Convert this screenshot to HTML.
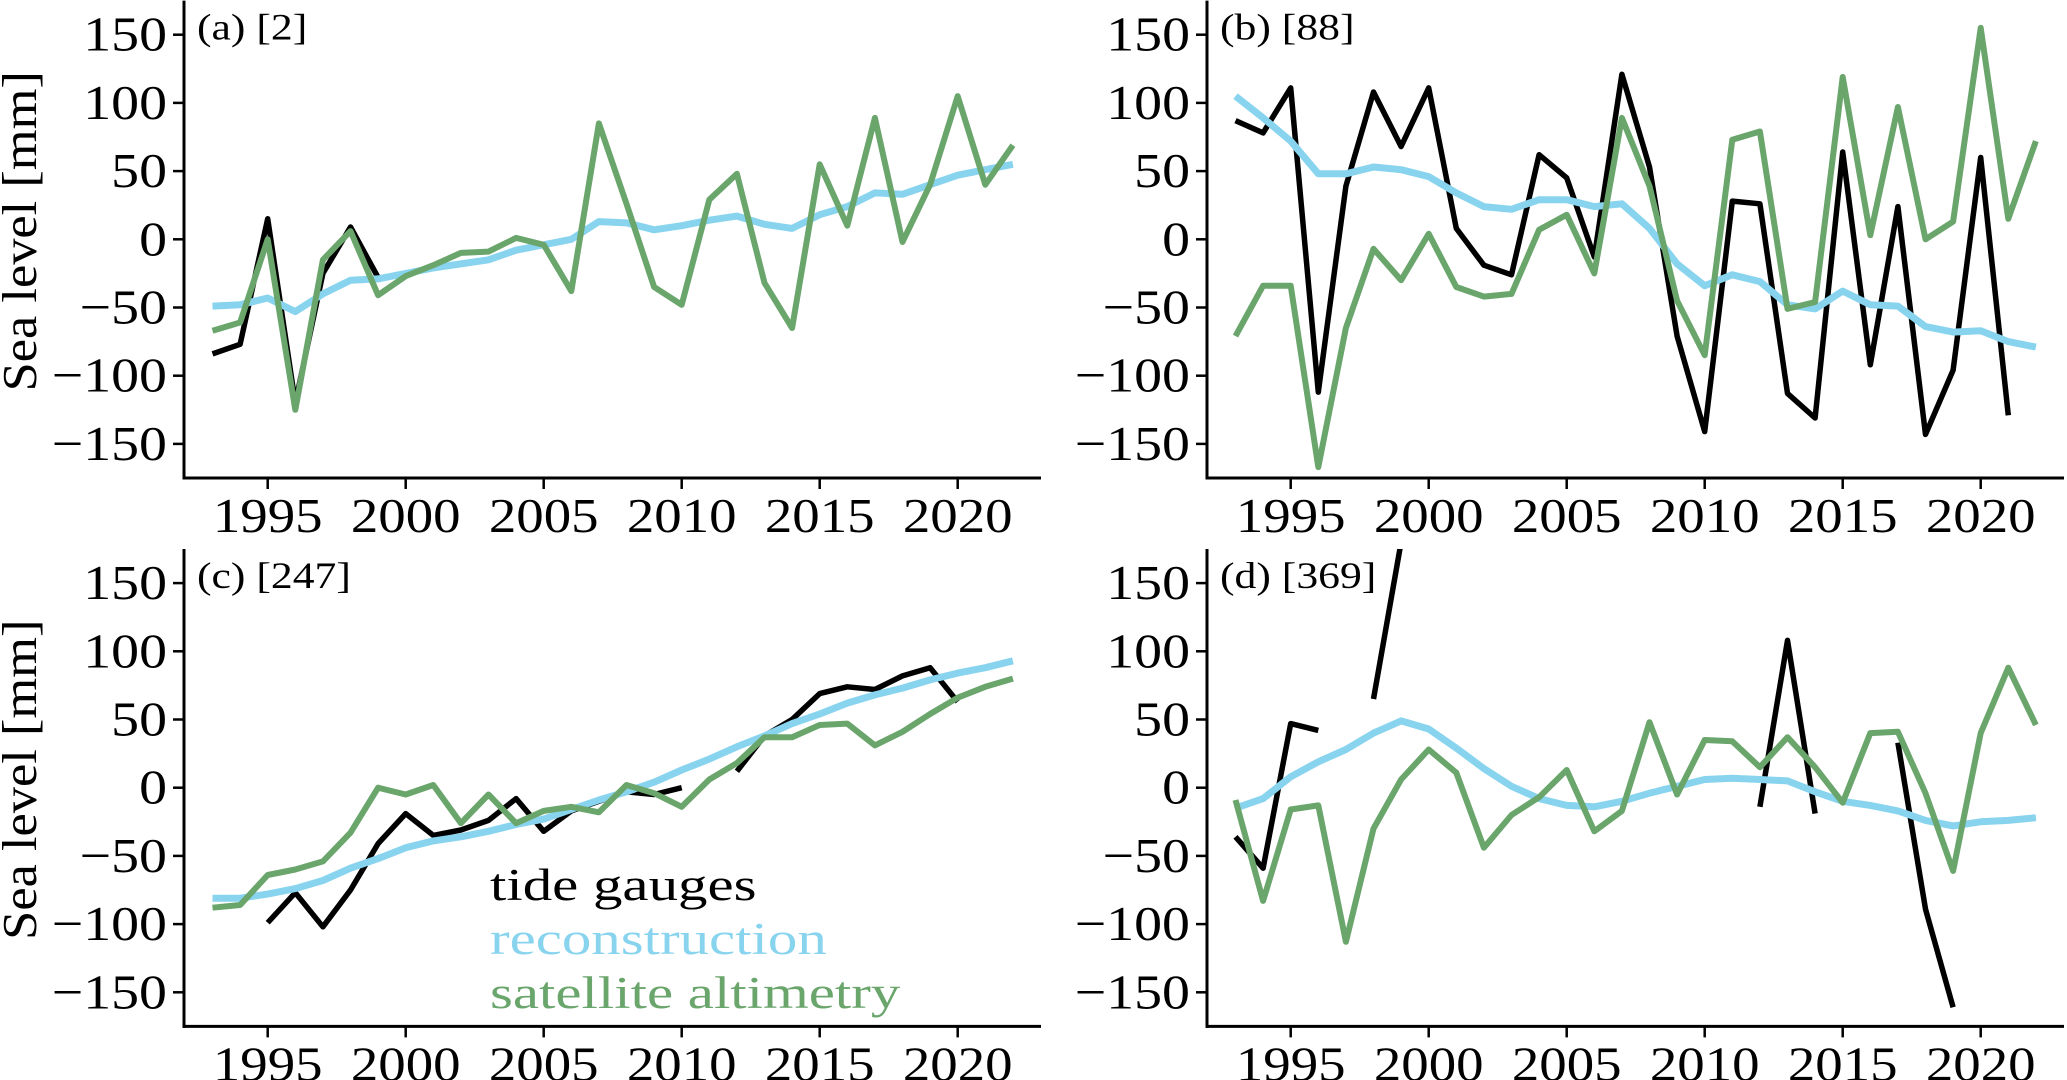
<!DOCTYPE html>
<html><head><meta charset="utf-8"><style>
html,body{margin:0;padding:0;background:#fff;}
svg{display:block;font-family:"Liberation Serif",serif;}
</style></head><body>
<svg id="chart" width="2067" height="1080" viewBox="0 0 2067 1080" xmlns="http://www.w3.org/2000/svg"></svg>
<script>
const years = [1993,1994,1995,1996,1997,1998,1999,2000,2001,2002,2003,2004,2005,2006,2007,2008,2009,2010,2011,2012,2013,2014,2015,2016,2017,2018,2019,2020,2021,2022];
const xTicks = [1995,2000,2005,2010,2015,2020];
const yTicks = [150,100,50,0,-50,-100,-150];
const panelLabels = ["(a) [2]","(b) [88]","(c) [247]","(d) [369]"];
const legendLabels = ["tide gauges","reconstruction","satellite altimetry"];
const N = null;
// panel a
const tideA = [-84,-77,15,-120,-25,9,-28,N,N,N,N,N,N,N,N,N,N,N,N,N,N,N,N,N,N,N,N,N,N,N];
const reconA = [-49,-48,-43,-53,-40,-30,-29,-25,-21,-18,-15,-8,-4,0,13,12,7,10,14,17,11,8,18,24,34,33,40,47,51,55];
const satA = [-67,-61,0,-125,-15,6,-41,-27,-19,-10,-9,1,-4,-38,85,26,-35,-48,29,48,-32,-65,55,10,89,-2,40,105,40,69];
// panel b
const tideB = [87,78,111,-112,39,108,68,111,8,-19,-26,62,45,-13,121,53,-71,-141,28,26,-113,-131,64,-92,24,-143,-96,60,-129,N];
const reconB = [105,89,72,48,48,53,51,46,34,24,22,29,29,24,26,8,-18,-34,-26,-31,-48,-51,-38,-48,-49,-64,-68,-67,-75,-79];
const satB = [-71,-34,-34,-167,-65,-7,-30,4,-35,-42,-40,7,18,-25,89,39,-45,-85,73,79,-51,-46,119,3,97,0,13,155,15,72];
// panel c
const tideC = [N,N,-99,-77,-102,-75,-41,-19,-35,-31,-24,-8,-32,-17,-10,-3,-5,0,N,12,38,50,69,74,72,82,88,63,N,N];
const reconC = [-81,-81,-78,-74,-68,-59,-52,-44,-39,-36,-32,-27,-23,-16,-9,-3,4,13,21,30,38,47,54,62,68,73,79,84,88,93];
const satC = [-88,-86,-64,-60,-54,-33,0,-5,2,-26,-5,-26,-17,-14,-18,2,-4,-14,6,18,37,37,46,47,31,41,54,66,74,80];
// panel d
const tideD = [-36,-59,47,42,N,65,180,N,N,N,N,N,N,N,N,N,N,N,N,-14,108,-19,N,N,33,-89,-161,N,N,N];
const reconD = [-15,-8,8,19,28,40,49,43,29,14,1,-8,-13,-14,-10,-4,1,6,7,6,5,-3,-10,-13,-17,-24,-28,-25,-24,-22];
const satD = [-9,-83,-16,-13,-113,-30,6,28,11,-44,-20,-7,13,-32,-17,48,-5,35,34,15,37,15,-11,40,41,-4,-61,40,88,46];

const panels = [
  {left:184, top0:239.3, tide:tideA, recon:reconA, sat:satA, name:"a"},
  {left:1207, top0:239.3, tide:tideB, recon:reconB, sat:satB, name:"b"},
  {left:184, top0:787.7, tide:tideC, recon:reconC, sat:satC, name:"c"},
  {left:1207, top0:787.7, tide:tideD, recon:reconD, sat:satD, name:"d"}
];
const NS = "http://www.w3.org/2000/svg";
const svg = document.getElementById("chart");
const PXY = 27.6, PMM = 1.364;
function mk(tag, attrs, parent){const e=document.createElementNS(NS,tag);for(const k in attrs)e.setAttribute(k,attrs[k]);(parent||svg).appendChild(e);return e;}
const defs = mk("defs",{});
panels.forEach((p,pi)=>{
  const xS = yr => p.left + 28.5 + (yr-1993)*PXY;
  const yS = v => p.top0 - v*PMM;
  const top = yS(175), bottom = yS(-175), right = p.left + 857;
  const g = mk("g",{});
  
  
  const cp = mk("clipPath",{id:"clip"+pi},defs);
  mk("rect",{x:p.left,y:top,width:right-p.left,height:bottom-top},cp);
  const ys = mk("line",{x1:p.left,y1:top,x2:p.left,y2:bottom+1.5,stroke:"#000","stroke-width":3},g);
  
  
  const xs = mk("line",{x1:p.left-1.5,y1:bottom,x2:right,y2:bottom,stroke:"#000","stroke-width":3},g);
  
  
  yTicks.forEach(t=>{
    const y=yS(t);
    mk("line",{x1:p.left-11,y1:y,x2:p.left,y2:y,stroke:"#000","stroke-width":2.5},g);
    const tx=mk("text",{x:0,y:0,"text-anchor":"end","font-size":49,transform:"translate("+(p.left-17)+","+(y+16)+") scale(1.14,1)"},g);
    tx.textContent = t<0 ? "\u2212"+(-t) : String(t);
    
    
  });
  xTicks.forEach(t=>{
    const x=xS(t);
    mk("line",{x1:x,y1:bottom,x2:x,y2:bottom+11,stroke:"#000","stroke-width":2.5},g);
    const tx=mk("text",{x:0,y:0,"text-anchor":"middle","font-size":49,transform:"translate("+x+","+(bottom+54)+") scale(1.12,1)"},g);
    tx.textContent = String(t);
    
    
  });
  const series=[[p.tide,"#000",5.5,"tide-gauges-line"],[p.recon,"#88d4ef",7,"reconstruction-line"],[p.sat,"#6aa66c",6,"satellite-altimetry-line"]];
  series.forEach(([arr,col,w,nm])=>{
    let d="", pen=false;
    arr.forEach((v,i)=>{
      if(v===null){pen=false;return;}
      d += (pen?"L":"M")+xS(years[i]).toFixed(1)+","+yS(v).toFixed(1);
      pen=true;
    });
    const path=mk("path",{d:d,fill:"none",stroke:col,"stroke-width":w,"stroke-linejoin":"round","clip-path":"url(#clip"+pi+")"},g);
    
    
  });
  const lab=mk("text",{x:0,y:0,"font-size":37,transform:"translate("+(p.left+13)+","+(top+39)+") scale(1.18,1)"},g);
  lab.textContent=panelLabels[pi];
  
  
  if(p.name==="a"||p.name==="c"){
    const yl=mk("text",{x:0,y:0,"text-anchor":"middle","font-size":49,transform:"translate(36,"+(p.top0-8)+") rotate(-90) scale(1.07,1)"},g);
    yl.textContent="Sea level [mm]";
    
    
  }
});
const legCols=["#000","#88d4ef","#6aa66c"];
legendLabels.forEach((t,i)=>{
  const e=mk("text",{x:0,y:0,"font-size":46,fill:legCols[i],transform:"translate(490,"+(900+i*54)+") scale(1.28,1)"});
  e.textContent=t;
  
  
});
</script>
</body></html>
